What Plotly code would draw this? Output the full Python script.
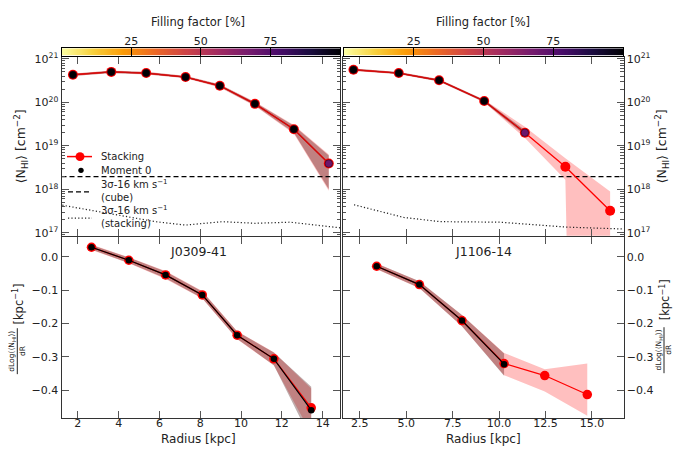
import numpy as np
import plotly.graph_objects as go

W, H = 673, 452

# ---------------- J0309-41 ----------------
r_a = [1.76, 3.64, 5.35, 7.28, 8.96, 10.68, 12.59, 14.30]          # kpc
nhi_stack_a = [4.3e20, 5.0e20, 4.7e20, 3.8e20, 2.4e20, 9.2e19, 2.4e19, 3.9e18]
nhi_stack_lo_a = [4.0e20, 4.65e20, 4.35e20, 3.55e20, 2.2e20, 8.2e19, 1.9e19, 9.3e17]
nhi_stack_hi_a = [4.6e20, 5.35e20, 5.05e20, 4.1e20, 2.6e20, 1.03e20, 3.0e19, 6.3e18]
nhi_mom0_a = [4.3e20, 5.0e20, 4.7e20, 3.8e20, 2.4e20, 9.2e19, 2.4e19, 3.9e18]
nhi_mom0_lo_a = [4.05e20, 4.7e20, 4.4e20, 3.6e20, 2.25e20, 8.4e19, 2.0e19, 1.0e18]
nhi_mom0_hi_a = [4.55e20, 5.3e20, 5.0e20, 4.05e20, 2.55e20, 1.0e20, 2.9e19, 6.0e18]
ffac_a = [100, 100, 100, 100, 100, 100, 100, 70]                   # filling factor [%]

r_noise_a = [1.24, 4.0, 5.8, 7.28, 9.08, 10.7, 12.4, 14.85]
nhi_noise_a = [4.3e17, 2.6e17, 1.8e17, 1.5e17, 1.8e17, 1.65e17, 1.75e17, 1.3e17]

rmid_a = [2.67, 4.50, 6.30, 8.10, 9.81, 11.61, 13.44]
grad_stack_a = [0.029, -0.010, -0.054, -0.114, -0.235, -0.306, -0.453]
grad_stack_lo_a = [0.021, -0.019, -0.066, -0.125, -0.247, -0.326, -0.53]
grad_stack_hi_a = [0.037, -0.001, -0.042, -0.102, -0.223, -0.286, -0.395]
grad_mom0_a = [0.029, -0.010, -0.054, -0.114, -0.235, -0.306, -0.460]
grad_mom0_lo_a = [0.022, -0.018, -0.064, -0.124, -0.246, -0.325, -0.55]
grad_mom0_hi_a = [0.036, -0.002, -0.044, -0.104, -0.224, -0.287, -0.39]

# ---------------- J1106-14 ----------------
r_b = [2.16, 4.60, 6.77, 9.20, 11.39, 13.57, 15.98]
nhi_stack_b = [5.6e20, 4.7e20, 3.2e20, 1.07e20, 2.0e19, 3.3e18, 3.2e17]
nhi_stack_lo_b = [5.25e20, 4.4e20, 3.0e20, 1.0e20, 1.5e19, 1.65e18, 0.0]
nhi_stack_hi_b = [6.0e20, 5.0e20, 3.45e20, 1.15e20, 2.75e19, 5.2e18, 8.9e17]
r_mom0_b = [2.16, 4.60, 6.77, 9.20, 11.39]
nhi_mom0_b = [5.6e20, 4.7e20, 3.2e20, 1.07e20, 2.0e19]
nhi_mom0_lo_b = [5.3e20, 4.45e20, 3.02e20, 1.0e20, 1.75e19]
nhi_mom0_hi_b = [5.95e20, 4.95e20, 3.4e20, 1.14e20, 2.3e19]
ffac_b = [100, 100, 100, 100, 70]

r_noise_b = [2.19, 4.87, 6.84, 10.05, 13.6, 16.7]
nhi_noise_b = [4.4e17, 2.25e17, 1.8e17, 1.75e17, 1.35e17, 1.22e17]

rmid_b = [3.41, 5.71, 8.00, 10.27, 12.46, 14.75]
grad_stack_b = [-0.028, -0.083, -0.191, -0.320, -0.356, -0.413]
grad_stack_lo_b = [-0.037, -0.094, -0.208, -0.355, -0.404, -0.477]
grad_stack_hi_b = [-0.020, -0.073, -0.174, -0.288, -0.337, -0.320]
rmid_mom0_b = [3.41, 5.71, 8.00, 10.27]
grad_mom0_b = [-0.028, -0.083, -0.191, -0.322]
grad_mom0_lo_b = [-0.036, -0.093, -0.208, -0.357]
grad_mom0_hi_b = [-0.020, -0.073, -0.174, -0.290]

# 3 sigma, 16 km/s column-density limit of the cube
nhi_cube_limit = 1.95e18

# axis ranges
xr_a = [1.2, 14.85]
xr_b = [1.57, 16.7]
logy_top = [16.93, 21.045]
y_grad = [-0.484, 0.059]

RED = "rgb(255,0,0)"
BAND_RED = "rgba(255,0,0,0.25)"
BAND_DARK = "rgba(60,0,0,0.32)"
FONT = "DejaVu Sans"
TXT_C = "#222222"
TICK_C = "#555555"
LINE_C = "#333333"


def px(x):
    return x / W


def py(y):
    return 1 - y / H


def band(x, lo, hi, log=False):
    lo = np.asarray(lo, float)
    hi = np.asarray(hi, float)
    if log:
        # non-positive lower bounds are clipped far below the axis, as on a log scale
        lo = np.where(lo > 0, lo, 1e-30)
    return list(x) + list(x)[::-1], list(hi) + list(lo)[::-1]


fig = go.Figure()


def add_panel(xa, ya, r_s, v_s, lo_s, hi_s, r_m, v_m, lo_m, hi_m, log,
              mline_col, ms_red, ms_blk, ffac=None, r_noise=None, v_noise=None, xr=None):
    bx, by = band(r_s, lo_s, hi_s, log)
    fig.add_trace(go.Scatter(x=bx, y=by, fill="toself", fillcolor=BAND_RED, mode="none",
                             xaxis=xa, yaxis=ya, hoverinfo="skip", showlegend=False))
    bx, by = band(r_m, lo_m, hi_m, log)
    fig.add_trace(go.Scatter(x=bx, y=by, fill="toself", fillcolor=BAND_DARK, mode="none",
                             xaxis=xa, yaxis=ya, hoverinfo="skip", showlegend=False))
    if log:
        fig.add_trace(go.Scatter(x=xr, y=[nhi_cube_limit, nhi_cube_limit], mode="lines",
                                 line=dict(color="black", width=1.2, dash="5px,3px"),
                                 xaxis=xa, yaxis=ya, showlegend=False))
        fig.add_trace(go.Scatter(x=r_noise, y=v_noise, mode="lines",
                                 line=dict(color=TXT_C, width=1.2, dash="1.2px,2.2px"),
                                 xaxis=xa, yaxis=ya, showlegend=False))
    fig.add_trace(go.Scatter(x=r_s, y=v_s, mode="lines+markers",
                             line=dict(color=RED, width=1.3),
                             marker=dict(color=RED, size=ms_red),
                             xaxis=xa, yaxis=ya, showlegend=False))
    if ffac is not None:
        mcol = dict(color=ffac, colorscale="Inferno_r", cmin=0, cmax=100, size=ms_blk,
                    line=dict(color="#300010", width=0.6))
    else:
        mcol = dict(color="black", size=ms_blk)
    fig.add_trace(go.Scatter(x=r_m, y=v_m, mode="lines+markers",
                             line=dict(color=mline_col, width=1.2),
                             marker=mcol, xaxis=xa, yaxis=ya, showlegend=False))


add_panel("x", "y", r_a, nhi_stack_a, nhi_stack_lo_a, nhi_stack_hi_a,
          r_a, nhi_mom0_a, nhi_mom0_lo_a, nhi_mom0_hi_a, True, "rgb(200,15,15)", 10, 7.5,
          ffac_a, r_noise_a, nhi_noise_a, xr_a)
add_panel("x2", "y2", r_b, nhi_stack_b, nhi_stack_lo_b, nhi_stack_hi_b,
          r_mom0_b, nhi_mom0_b, nhi_mom0_lo_b, nhi_mom0_hi_b, True, "rgb(200,15,15)", 10, 7.5,
          ffac_b, r_noise_b, nhi_noise_b, xr_b)
add_panel("x3", "y3", rmid_a, grad_stack_a, grad_stack_lo_a, grad_stack_hi_a,
          rmid_a, grad_mom0_a, grad_mom0_lo_a, grad_mom0_hi_a, False, "black", 9.5, 6.5)
add_panel("x4", "y4", rmid_b, grad_stack_b, grad_stack_lo_b, grad_stack_hi_b,
          rmid_mom0_b, grad_mom0_b, grad_mom0_lo_b, grad_mom0_hi_b, False, "black", 9.5, 6.5)

# filling-factor colour bars
ff_grid = np.linspace(0, 100, 256)
for xa, ya in (("x5", "y5"), ("x6", "y6")):
    fig.add_trace(go.Heatmap(x=ff_grid, y=[0], z=[ff_grid], colorscale="Inferno_r",
                             zmin=0, zmax=100, showscale=False, xaxis=xa, yaxis=ya,
                             hoverinfo="skip"))

tickfont = dict(family=FONT, size=11, color=TXT_C)
common = dict(showgrid=False, zeroline=False, ticks="inside", mirror="allticks",
              showline=True, linecolor=LINE_C, linewidth=1, tickcolor=TICK_C,
              tickwidth=1.3, ticklen=7, tickfont=tickfont)

XL = [px(61.5), px(340)]
XR = [px(342.5), px(623.5)]
YT = [py(235), py(52)]
YB = [py(421.5), py(236.5)]

ticks_a = [2, 4, 6, 8, 10, 12, 14]
ticks_b = [2.5, 5.0, 7.5, 10.0, 12.5, 15.0]
decades = [1e17, 1e18, 1e19, 1e20, 1e21]
dec_text = ["10<sup>%d</sup>" % int(round(np.log10(d))) for d in decades]
grad_ticks = [0.0, -0.1, -0.2, -0.3, -0.4]

log_common = dict(common, type="log", range=logy_top, tickvals=decades, ticktext=dec_text,
                  minor=dict(ticks="inside", ticklen=3.5, tickcolor=TICK_C, tickwidth=1,
                             dtick="D1", showgrid=False))

cbar_x = dict(range=[0, 100], side="top", tickvals=[25, 50, 75], ticks="inside",
              ticklen=8, tickcolor="black", tickwidth=1, showline=True, linecolor="black",
              linewidth=1, mirror=True, showgrid=False, zeroline=False, tickfont=tickfont,
              ticklabelstandoff=-2)
cbar_y = dict(range=[-0.5, 0.5], domain=[py(50.7), py(43.3)], showticklabels=False, ticks="",
              showline=True, linecolor="black", linewidth=1, mirror=True, showgrid=False,
              zeroline=False)

fig.update_layout(
    width=W, height=H, margin=dict(l=0, r=0, t=0, b=0),
    paper_bgcolor="white", plot_bgcolor="white", showlegend=False,
    font=dict(family=FONT, color=TXT_C),
    xaxis=dict(common, domain=XL, anchor="y", range=xr_a, tickvals=ticks_a, showticklabels=False),
    yaxis=dict(log_common, domain=YT, anchor="x"),
    xaxis2=dict(common, domain=XR, anchor="y2", range=xr_b, tickvals=ticks_b, showticklabels=False),
    yaxis2=dict(log_common, domain=YT, anchor="x2", side="right"),
    xaxis3=dict(common, domain=XL, anchor="y3", range=xr_a, tickvals=ticks_a, ticklabelstandoff=-5),
    yaxis3=dict(common, domain=YB, anchor="x3", range=y_grad, tickvals=grad_ticks, tickformat=".1f"),
    xaxis4=dict(common, domain=XR, anchor="y4", range=xr_b, tickvals=ticks_b, tickformat=".1f",
                ticklabelstandoff=-5),
    yaxis4=dict(common, domain=YB, anchor="x4", range=y_grad, tickvals=grad_ticks, tickformat=".1f",
                side="right"),
    xaxis5=dict(cbar_x, domain=[px(61.7), px(340)], anchor="y5"),
    yaxis5=dict(cbar_y, anchor="x5"),
    xaxis6=dict(cbar_x, domain=[px(344), px(623)], anchor="y6"),
    yaxis6=dict(cbar_y, anchor="x6"),
)

ann = []


def text(x, y, s, size=11, angle=0, xanchor="center", align="center"):
    ann.append(dict(x=px(x), y=py(y), xref="paper", yref="paper", text=s, showarrow=False,
                    xanchor=xanchor, yanchor="middle", textangle=angle, align=align,
                    font=dict(family=FONT, size=size, color=TXT_C)))


for cx in (198, 483):
    text(cx, 16, "Filling factor [%]", 11.5)
    text(cx, 443, "Radius [kpc]", 12)
text(198, 251, "J0309-41", 12.5)
text(483, 251, "J1106-14", 12.5)

nhi_lbl = "⟨N<sub>HI</sub>⟩ [cm<sup>−2</sup>]"
text(21, 143.5, nhi_lbl, 12.5, -90)
text(662, 143.5, nhi_lbl, 12.5, -90)

# fraction-style gradient labels
num = "dLog(⟨N<sub>HI</sub>⟩)"
shapes = []
for xc, yk, yf in ((17.3, 305, 353), (664.0, 301, 352)):
    text(xc - 4.8, yf, num, 7.5, -90)
    text(xc + 4.5, yf, "dR", 7.5, -90)
    text(xc + 1.0, yk, "[kpc<sup>−1</sup>]", 11.5, -90)
    shapes.append(dict(type="line", xref="paper", yref="paper", x0=px(xc), x1=px(xc),
                       y0=py(yf - 23.5), y1=py(yf + 23.5), line=dict(color=TXT_C, width=1)))

# legend
text(99, 154, "Stacking", 10, xanchor="left")
text(99, 168, "Moment 0", 10, xanchor="left")
text(99, 188.5, "3σ-16 km s<sup>−1</sup><br>(cube)", 10, xanchor="left", align="left")
text(99, 215, "3σ-16 km s<sup>−1</sup><br>(stacking)", 10, xanchor="left", align="left")
shapes += [
    dict(type="line", xref="paper", yref="paper", x0=px(67), x1=px(92), y0=py(154), y1=py(154),
         line=dict(color=RED, width=1.5)),
    dict(type="circle", xref="paper", yref="paper", x0=px(75.5), x1=px(84.5), y0=py(158.5),
         y1=py(149.5), fillcolor=RED, line=dict(width=0)),
    dict(type="circle", xref="paper", yref="paper", x0=px(78.3), x1=px(83.7), y0=py(170.7),
         y1=py(165.3), fillcolor="black", line=dict(width=0)),
    dict(type="line", xref="paper", yref="paper", x0=px(68), x1=px(92), y0=py(190), y1=py(190),
         line=dict(color="black", width=1.2, dash="5px,3px")),
    dict(type="line", xref="paper", yref="paper", x0=px(68), x1=px(92), y0=py(217), y1=py(217),
         line=dict(color=TXT_C, width=1.2, dash="1.2px,2.2px")),
]

fig.update_layout(annotations=ann, shapes=shapes)
fig.write_html("out.html")
